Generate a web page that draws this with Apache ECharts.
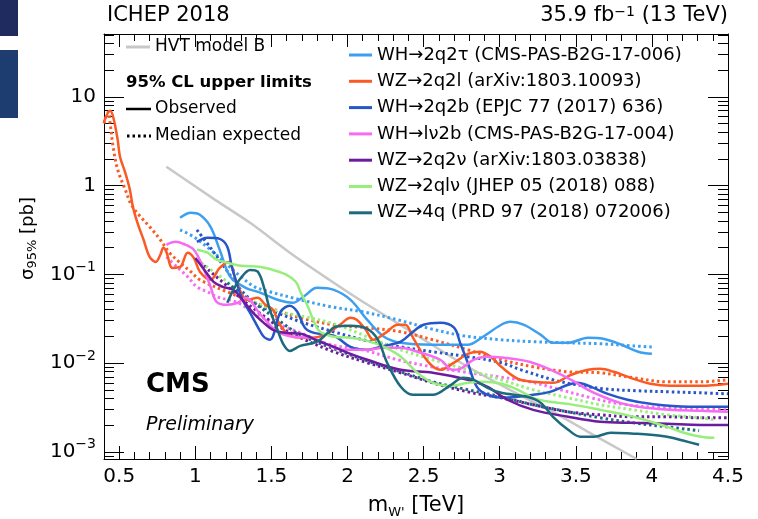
<!DOCTYPE html>
<html><head><meta charset="utf-8">
<script src="https://cdn.jsdelivr.net/npm/echarts@6/dist/echarts.min.js"></script>
<style>html,body{margin:0;padding:0;background:#fff}#c{width:758px;height:519px}</style>
</head><body><div id="c"></div>
<script>
// ---------- data (mass in TeV, sigma in pb) ----------
const analysisNames = [
  'WH\u21922q2\u03c4 (CMS-PAS-B2G-17-006)',
  'WZ\u21922q2l (arXiv:1803.10093)',
  'WH\u21922q2b (EPJC 77 (2017) 636)',
  'WH\u2192l\u03bd2b (CMS-PAS-B2G-17-004)',
  'WZ\u21922q2\u03bd (arXiv:1803.03838)',
  'WZ\u21922ql\u03bd (JHEP 05 (2018) 088)',
  'WZ\u21924q (PRD 97 (2018) 072006)'
];
const hvtName = 'HVT model B';
const seriesColors = ['#3d9ff0','#fa5a23','#2656c8','#f56cf2','#6c1c9e','#98ee7c','#1c6a7c'];
const hvtColor = '#c8c8c8';

const hvtB = [[0.81,1.63],[1.13,0.69],[1.36,0.38],[1.64,0.166],[1.89,0.0845],[2.08,0.0516],[2.43,0.0219],[2.79,0.00908],[3.14,0.00428],[3.35,0.00282],[3.58,0.00168],[3.9,0.00083]];

const obs2q2tau = [[0.90,0.433],[0.97,0.493],[1.03,0.468],[1.10,0.343],[1.16,0.189],[1.23,0.0937],[1.33,0.0705],[1.43,0.0619],[1.54,0.0516],[1.64,0.0478],[1.71,0.0558],[1.80,0.0705],[1.91,0.0669],[2.02,0.0516],[2.13,0.0307],[2.24,0.0198],[2.35,0.0169],[2.56,0.0161],[2.79,0.0161],[2.89,0.0198],[3.01,0.0270],[3.07,0.0292],[3.16,0.0270],[3.27,0.0208],[3.35,0.0169],[3.45,0.0169],[3.58,0.0193],[3.68,0.0188],[3.80,0.0161],[3.91,0.0134],[4.0,0.0127]];
const exp2q2tau = [[0.90,0.317],[0.99,0.264],[1.10,0.189],[1.21,0.128],[1.30,0.0937],[1.39,0.0723],[1.49,0.0635],[1.64,0.0543],[1.89,0.0431],[2.10,0.0378],[2.33,0.0307],[2.55,0.0243],[2.76,0.0203],[3.01,0.0183],[3.22,0.0174],[3.45,0.0169],[3.66,0.0165],[3.88,0.0156],[4.0,0.0152]];

const obs2q2l = [[0.40,5.23],[0.44,6.96],[0.46,5.96],[0.49,3.27],[0.505,2.11],[0.54,1.39],[0.57,0.896],[0.59,0.575],[0.62,0.380],[0.66,0.245],[0.70,0.157],[0.74,0.138],[0.77,0.166],[0.79,0.199],[0.81,0.179],[0.85,0.118],[0.90,0.121],[0.95,0.175],[0.99,0.153],[1.03,0.107],[1.10,0.0867],[1.16,0.118],[1.22,0.138],[1.27,0.0823],[1.34,0.0516],[1.41,0.0543],[1.46,0.0453],[1.51,0.0398],[1.56,0.0263],[1.64,0.0198],[1.76,0.0193],[1.85,0.0208],[1.95,0.0270],[2.02,0.0324],[2.06,0.0307],[2.12,0.0237],[2.17,0.0183],[2.25,0.0219],[2.33,0.0270],[2.38,0.0270],[2.43,0.0193],[2.53,0.0103],[2.61,0.00839],[2.70,0.0101],[2.79,0.0127],[2.87,0.0134],[2.94,0.0118],[3.01,0.00908],[3.12,0.00664],[3.22,0.00615],[3.35,0.00599],[3.47,0.00738],[3.58,0.00839],[3.66,0.00861],[3.75,0.00797],[3.86,0.00682],[3.99,0.00584],[4.12,0.00554],[4.32,0.00554],[4.5,0.00584]];
const exp2q2l = [[0.40,5.0],[0.43,6.78],[0.44,5.09],[0.46,2.73],[0.49,1.51],[0.54,0.896],[0.58,0.607],[0.64,0.445],[0.70,0.343],[0.77,0.245],[0.83,0.175],[0.90,0.135],[0.97,0.107],[1.03,0.0867],[1.21,0.0635],[1.43,0.0453],[1.69,0.0324],[1.91,0.0270],[2.13,0.0250],[2.35,0.0225],[2.56,0.0183],[2.79,0.0141],[3.01,0.0109],[3.22,0.00908],[3.45,0.00797],[3.66,0.00777],[3.88,0.00682],[4.10,0.00615],[4.32,0.00615],[4.5,0.00648]];

const obs2q2b = [[1.01,0.232],[1.08,0.258],[1.16,0.251],[1.21,0.204],[1.24,0.121],[1.28,0.0723],[1.31,0.0516],[1.36,0.0368],[1.41,0.0256],[1.45,0.0198],[1.49,0.0183],[1.56,0.0378],[1.62,0.0442],[1.67,0.0378],[1.72,0.0250],[1.78,0.0219],[1.91,0.0203],[2.02,0.0152],[2.12,0.0141],[2.24,0.0156],[2.35,0.0174],[2.43,0.0225],[2.50,0.0270],[2.61,0.0284],[2.70,0.0250],[2.74,0.0169],[2.79,0.0101],[2.85,0.00540],[2.92,0.00439],[3.01,0.00406],[3.12,0.00417],[3.22,0.00439],[3.33,0.00474],[3.45,0.00569],[3.51,0.00599],[3.60,0.00540],[3.71,0.00450],[3.84,0.00386],[3.99,0.00347],[4.24,0.00322],[4.5,0.00322]];
const exp2q2b = [[1.01,0.317],[1.10,0.199],[1.18,0.128],[1.25,0.0867],[1.31,0.0635],[1.41,0.0453],[1.54,0.0368],[1.69,0.0292],[1.91,0.0225],[2.13,0.0178],[2.35,0.0152],[2.56,0.0134],[2.79,0.0118],[3.01,0.0101],[3.14,0.00839],[3.35,0.00648],[3.47,0.00584],[3.68,0.00513],[3.91,0.00487],[4.12,0.00474],[4.32,0.00462],[4.5,0.00450]];

const obsLnu2b = [[0.81,0.215],[0.87,0.232],[0.92,0.221],[0.99,0.189],[1.05,0.121],[1.10,0.0723],[1.14,0.0490],[1.21,0.0453],[1.28,0.0478],[1.33,0.0543],[1.43,0.0350],[1.54,0.0225],[1.64,0.0198],[1.76,0.0193],[1.97,0.0141],[2.13,0.0141],[2.24,0.0149],[2.35,0.0149],[2.46,0.0134],[2.61,0.0109],[2.69,0.00839],[2.74,0.00861],[2.83,0.0109],[2.91,0.0118],[3.03,0.0115],[3.20,0.0103],[3.35,0.00818],[3.47,0.00648],[3.58,0.00500],[3.68,0.00417],[3.79,0.00356],[3.91,0.00322],[4.12,0.00297],[4.32,0.00290],[4.5,0.00282]];
const expLnu2b = [[0.81,0.157],[0.88,0.121],[0.95,0.0937],[1.01,0.0723],[1.08,0.0635],[1.14,0.0558],[1.28,0.0478],[1.43,0.0332],[1.69,0.0219],[1.89,0.0161],[2.10,0.0141],[2.33,0.0109],[2.55,0.00908],[2.76,0.00797],[2.99,0.00700],[3.20,0.00615],[3.40,0.00500],[3.60,0.00406],[3.79,0.00347],[4.06,0.00313],[4.32,0.00305],[4.5,0.00297]];

const obs2q2nu = [[1.0,0.153],[1.05,0.118],[1.12,0.0823],[1.18,0.0723],[1.25,0.0669],[1.31,0.0516],[1.38,0.0368],[1.45,0.0284],[1.51,0.0237],[1.59,0.0219],[1.69,0.0214],[1.82,0.0174],[1.91,0.0152],[2.02,0.0127],[2.13,0.0109],[2.35,0.00839],[2.56,0.00777],[2.79,0.00648],[2.92,0.00540],[3.05,0.00386],[3.22,0.00297],[3.45,0.00248],[3.66,0.00218],[3.88,0.00212],[4.10,0.00207],[4.32,0.00201],[4.5,0.00201]];
const exp2q2nu = [[1.03,0.138],[1.10,0.107],[1.20,0.0762],[1.31,0.0516],[1.43,0.0359],[1.54,0.0263],[1.69,0.0193],[1.91,0.0134],[2.13,0.0101],[2.35,0.00777],[2.56,0.00599],[2.79,0.00474],[3.01,0.00406],[3.22,0.00339],[3.45,0.00282],[3.66,0.00261],[3.88,0.00248],[4.10,0.00248],[4.32,0.00242],[4.5,0.00242]];

const obs2qlnu = [[1.01,0.189],[1.08,0.175],[1.14,0.146],[1.21,0.135],[1.30,0.125],[1.43,0.121],[1.51,0.112],[1.60,0.0987],[1.66,0.0823],[1.69,0.0635],[1.74,0.0431],[1.78,0.0292],[1.82,0.0225],[1.91,0.0198],[2.02,0.0193],[2.13,0.0178],[2.24,0.0152],[2.35,0.0118],[2.46,0.00777],[2.56,0.00599],[2.68,0.00554],[2.79,0.00599],[2.89,0.00615],[3.01,0.00584],[3.12,0.00500],[3.22,0.00406],[3.33,0.00366],[3.45,0.00347],[3.66,0.00297],[3.88,0.00248],[4.10,0.00191],[4.21,0.00164],[4.32,0.00148],[4.41,0.00144]];
const exp2qlnu = [[1.01,0.146],[1.12,0.107],[1.21,0.0823],[1.31,0.0588],[1.43,0.0453],[1.56,0.0378],[1.69,0.0341],[1.91,0.0277],[2.13,0.0198],[2.35,0.0141],[2.56,0.0109],[2.79,0.00839],[3.01,0.00648],[3.22,0.00500],[3.45,0.00406],[3.66,0.00339],[3.88,0.00297],[4.10,0.00261],[4.32,0.00242],[4.41,0.00230]];

const obs4q = [[1.21,0.0478],[1.25,0.0669],[1.30,0.0913],[1.36,0.112],[1.41,0.107],[1.45,0.0723],[1.49,0.0398],[1.54,0.0237],[1.58,0.0161],[1.62,0.0137],[1.69,0.0156],[1.80,0.0174],[1.87,0.0219],[1.92,0.0256],[2.02,0.0263],[2.13,0.0243],[2.20,0.0183],[2.26,0.0101],[2.35,0.00540],[2.43,0.00439],[2.56,0.00439],[2.68,0.00569],[2.76,0.00682],[2.83,0.00648],[2.92,0.00526],[3.01,0.00462],[3.18,0.00417],[3.27,0.00356],[3.35,0.00248],[3.45,0.00177],[3.53,0.00148],[3.62,0.00148],[3.73,0.00164],[3.88,0.00160],[3.99,0.00156],[4.10,0.00148],[4.21,0.00133],[4.31,0.00120]];
const exp4q = [[1.21,0.0802],[1.31,0.0588],[1.43,0.0420],[1.56,0.0292],[1.69,0.0208],[1.91,0.0145],[2.13,0.0106],[2.35,0.00797],[2.56,0.00615],[2.79,0.00500],[3.01,0.00417],[3.22,0.00339],[3.45,0.00282],[3.66,0.00242],[3.88,0.00212],[4.10,0.00191],[4.31,0.00173]];

const observedSets = [obs2q2tau, obs2q2l, obs2q2b, obsLnu2b, obs2q2nu, obs2qlnu, obs4q];
const expectedSets = [exp2q2tau, exp2q2l, exp2q2b, expLnu2b, exp2q2nu, exp2qlnu, exp4q];

// axis ticks
const xRange = [0.4, 4.5];
const xMajorTicks = [0.5,1,1.5,2,2.5,3,3.5,4,4.5];
const xMinorTicks = [0.6,0.7,0.8,0.9,1.1,1.2,1.3,1.4,1.6,1.7,1.8,1.9,2.1,2.2,2.3,2.4,2.6,2.7,2.8,2.9,3.1,3.2,3.3,3.4,3.6,3.7,3.8,3.9,4.1,4.2,4.3,4.4];
const yRange = [0.00083, 51];
const yMajorTicks = [0.001,0.01,0.1,1,10];
const yMinorTicks = [0.0009,0.002,0.003,0.004,0.005,0.006,0.007,0.008,0.009,0.02,0.03,0.04,0.05,0.06,0.07,0.08,0.09,0.2,0.3,0.4,0.5,0.6,0.7,0.8,0.9,2,3,4,5,6,7,8,9,20,30,40,50];

// ---------- chart ----------
const FONT = 'DejaVu Sans';
const black = '#000';

function powLabel(v) {
  const e = Math.round(Math.log10(v));
  if (e === 0) return '1';
  if (e === 1) return '10';
  return '10{sup|\u2212' + (-e) + '}';
}

function xAxisDef(pos, major) {
  return {
    type: 'value', position: pos, min: xRange[0], max: xRange[1],
    axisLine: { show: major, onZero: false, lineStyle: { color: black, width: 1 } },
    splitLine: { show: false },
    axisTick: { show: true, inside: true, length: major ? 13 : 7, customValues: major ? xMajorTicks : xMinorTicks, lineStyle: { color: black, width: 1 } },
    axisLabel: (major && pos === 'bottom') ? {
      show: true, customValues: xMajorTicks, formatter: v => String(v),
      fontFamily: FONT, fontSize: 20, color: black, margin: 8
    } : { show: false }
  };
}
function yAxisDef(pos, major) {
  return {
    type: 'log', logBase: 10, position: pos, min: yRange[0], max: yRange[1],
    axisLine: { show: major, onZero: false, lineStyle: { color: black, width: 1 } },
    splitLine: { show: false },
    axisTick: { show: true, inside: true, length: major ? 20 : 10, customValues: major ? yMajorTicks : yMinorTicks, lineStyle: { color: black, width: 1 } },
    axisLabel: (major && pos === 'left') ? {
      show: true, customValues: yMajorTicks, formatter: powLabel,
      fontFamily: FONT, fontSize: 20, color: black, margin: 8, lineHeight: 28,
      rich: { sup: { fontFamily: FONT, fontSize: 14, lineHeight: 14, verticalAlign: 'top', color: black } }
    } : { show: false }
  };
}

const xAxes = [xAxisDef('bottom', true), xAxisDef('bottom', false), xAxisDef('top', true), xAxisDef('top', false)];
Object.assign(xAxes[0], {
  name: "m{sub|W'} [TeV]", nameLocation: 'middle', nameGap: 34,
  nameTextStyle: { fontFamily: FONT, fontSize: 21, color: black, lineHeight: 26,
    rich: { sub: { fontFamily: FONT, fontSize: 13, lineHeight: 12, verticalAlign: 'bottom', color: black } } }
});
const yAxes = [yAxisDef('left', true), yAxisDef('left', false), yAxisDef('right', true), yAxisDef('right', false)];
Object.assign(yAxes[0], {
  name: '\u03c3{sub|95%} [pb]', nameLocation: 'middle', nameGap: 58,
  nameTextStyle: { fontFamily: FONT, fontSize: 18, color: black, lineHeight: 22, padding: [0, 0, 0, 16],
    rich: { sub: { fontFamily: FONT, fontSize: 13, lineHeight: 12, verticalAlign: 'bottom', color: black } } }
});

const series = [];
series.push({
  name: hvtName, type: 'line', data: hvtB, showSymbol: false, smooth: 0.3,
  itemStyle: { color: hvtColor }, lineStyle: { color: hvtColor, width: 2.5 }, z: 2
});
analysisNames.forEach((n, i) => {
  series.push({
    name: n + ' expected', type: 'line', data: expectedSets[i], showSymbol: false, smooth: 0.35,
    itemStyle: { color: seriesColors[i] },
    lineStyle: { color: seriesColors[i], width: 3, type: [2.5, 3], cap: 'butt' }, z: 3
  });
});
analysisNames.forEach((n, i) => {
  series.push({
    name: n, type: 'line', data: observedSets[i], showSymbol: false, smooth: 0.35,
    itemStyle: { color: seriesColors[i] },
    lineStyle: { color: seriesColors[i], width: 2.5 }, z: 4
  });
});

const legendText = { fontFamily: FONT, fontSize: 17, lineHeight: 18, color: black };
const legendTextR = { fontFamily: FONT, fontSize: 18, lineHeight: 18, color: black };

const option = {
  animation: false,
  backgroundColor: '#fff',
  grid: { left: 104, right: 30, top: 34, bottom: 60, containLabel: false, outerBoundsMode: 'none' },
  xAxis: xAxes,
  yAxis: yAxes,
  legend: [
    { data: analysisNames, orient: 'vertical', left: 349, top: 46, icon: 'rect', itemWidth: 23, itemHeight: 3,
      itemGap: 8.3, padding: 0, selectedMode: false, textStyle: legendTextR },
    { data: [hvtName], orient: 'vertical', left: 126, top: 38, icon: 'rect', itemWidth: 24, itemHeight: 3,
      padding: 0, selectedMode: false, textStyle: legendText }
  ],
  graphic: [
    { type: 'rect', left: 0, top: 0, shape: { x: 0, y: 0, width: 18, height: 36 }, style: { fill: '#1f2b5e' }, z: 0 },
    { type: 'rect', left: 0, top: 50, shape: { x: 0, y: 0, width: 18, height: 68 }, style: { fill: '#1d3d70' }, z: 0 },
    { type: 'text', x: 107, y: 16, style: { text: 'ICHEP 2018', fontFamily: FONT, fontSize: 21, fill: black, align: 'left', verticalAlign: 'middle' } },
    { type: 'text', x: 728, y: 16, style: { text: '35.9 fb{sup|\u22121} (13 TeV)', fontFamily: FONT, fontSize: 21, fill: black, align: 'right', verticalAlign: 'middle',
        rich: { sup: { fontFamily: FONT, fontSize: 14, verticalAlign: 'top', lineHeight: 12, fill: black } } } },
    { type: 'text', x: 126, y: 83, style: { text: '95% CL upper limits', fontFamily: FONT, fontSize: 16.5, fontWeight: 'bold', fill: black, align: 'left', verticalAlign: 'middle' } },
    { type: 'line', shape: { x1: 126, y1: 109, x2: 151, y2: 109 }, style: { stroke: black, lineWidth: 2.5 } },
    { type: 'text', x: 155, y: 109, style: { text: 'Observed', fontFamily: FONT, fontSize: 17, fill: black, align: 'left', verticalAlign: 'middle' } },
    { type: 'line', shape: { x1: 127, y1: 136, x2: 151, y2: 136 }, style: { stroke: black, lineWidth: 3, lineDash: [2.5, 3] } },
    { type: 'text', x: 155, y: 136, style: { text: 'Median expected', fontFamily: FONT, fontSize: 17, fill: black, align: 'left', verticalAlign: 'middle' } },
    { type: 'text', x: 146, y: 385, style: { text: 'CMS', fontFamily: FONT, fontSize: 26, fontWeight: 'bold', fill: black, align: 'left', verticalAlign: 'middle' } },
    { type: 'text', x: 146, y: 425, style: { text: 'Preliminary', fontFamily: FONT, fontSize: 19, fontStyle: 'italic', fill: black, align: 'left', verticalAlign: 'middle' } }
  ],
  series: series
};

const chart = echarts.init(document.getElementById('c'), null, { renderer: 'canvas' });
chart.setOption(option);
</script>
</body></html>
